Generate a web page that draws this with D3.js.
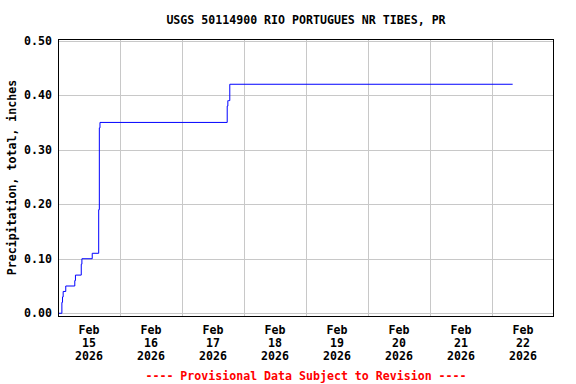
<!DOCTYPE html>
<html>
<head>
<meta charset="utf-8">
<script src="https://cdn.jsdelivr.net/npm/d3@7"></script>
<style>
  body { margin: 0; background: #fff; }
  text { font-family: 'DejaVu Sans Mono', monospace; font-weight: bold; font-size: 11.6px; }
</style>
</head>
<body>
<div id="svg-container"></div>
<script>
// cumulative precipitation, step series (value holds from time on)
const times = [
  '2026-02-15T00:00', '2026-02-15T01:30', '2026-02-15T01:45', '2026-02-15T02:00',
  '2026-02-15T03:00', '2026-02-15T06:30', '2026-02-15T06:45', '2026-02-15T09:00',
  '2026-02-15T09:15', '2026-02-15T13:15', '2026-02-15T15:45', '2026-02-15T16:00',
  '2026-02-15T16:15', '2026-02-17T17:30', '2026-02-17T17:45', '2026-02-17T18:00',
  '2026-02-17T18:30', '2026-02-22T08:00',
]
const values = [
  0.00, 0.02, 0.03, 0.04,
  0.05, 0.06, 0.07, 0.09,
  0.10, 0.11, 0.19, 0.34,
  0.35, 0.38, 0.39, 0.39,
  0.42, 0.42,
]
const yTicks = [0, 0.1, 0.2, 0.3, 0.4, 0.5]
const dayLabels = ['15', '16', '17', '18', '19', '20', '21', '22']

;(function () {
  const svgWidth = 576
  const svgHeight = 384
  const left = 58, right = 554, top = 39, bottom = 316

  const parse = d3.timeParse('%Y-%m-%dT%H:%M')
  const data = times.map((t, i) => ({ date: parse(t), value: values[i] }))

  const x = d3.scaleTime()
    .domain([parse('2026-02-15T00:00'), parse('2026-02-23T00:00')])
    .range([left, right])
  const y = d3.scaleLinear().domain([-0.005, 0.503]).range([bottom, top])

  const svg = d3.select('#svg-container').append('svg')
    .attr('width', svgWidth).attr('height', svgHeight)

  // grid
  const days = d3.timeDay.range(parse('2026-02-16T00:00'), parse('2026-02-23T00:00'))
  svg.append('g').selectAll('line').data(days).join('line')
    .attr('x1', d => Math.round(x(d)) + 0.5).attr('x2', d => Math.round(x(d)) + 0.5)
    .attr('y1', top).attr('y2', bottom)
    .attr('stroke', '#c8c8c8')
  svg.append('g').selectAll('line').data(yTicks).join('line')
    .attr('x1', left).attr('x2', right)
    .attr('y1', d => Math.round(y(d)) + 0.5).attr('y2', d => Math.round(y(d)) + 0.5)
    .attr('stroke', '#c8c8c8')

  // series
  const line = d3.line()
    .x(d => x(d.date))
    .y(d => y(d.value))
    .curve(d3.curveStepAfter)
  svg.append('path').datum(data)
    .attr('d', line)
    .attr('fill', 'none')
    .attr('stroke', '#0000ff')
    .attr('stroke-width', 1)

  // frame
  svg.append('rect')
    .attr('x', left + 0.5).attr('y', top + 0.5)
    .attr('width', right - left - 1).attr('height', bottom - top)
    .attr('fill', 'none').attr('stroke', '#000')

  // y tick labels
  svg.append('g').selectAll('text').data(yTicks).join('text')
    .attr('x', 52).attr('y', d => y(d))
    .attr('dy', '0.35em')
    .attr('text-anchor', 'end')
    .text(d => d3.format('.2f')(d))

  // x tick labels at noon
  const noons = dayLabels.map(d => parse(`2026-02-${d}T12:00`))
  const xl = svg.append('g').selectAll('text').data(noons).join('text')
    .attr('text-anchor', 'middle')
    .attr('x', d => x(d))
  xl.append('tspan').attr('x', d => x(d)).attr('y', 334).text('Feb')
  xl.append('tspan').attr('x', d => x(d)).attr('y', 347).text((d, i) => dayLabels[i])
  xl.append('tspan').attr('x', d => x(d)).attr('y', 360).text('2026')

  svg.append('text')
    .attr('x', (left + right) / 2).attr('y', 24)
    .attr('text-anchor', 'middle')
    .text('USGS 50114900 RIO PORTUGUES NR TIBES, PR')

  svg.append('text')
    .attr('transform', `translate(16, ${(top + bottom) / 2}) rotate(-90)`)
    .attr('text-anchor', 'middle')
    .text('Precipitation, total, inches')

  svg.append('text')
    .attr('x', (left + right) / 2).attr('y', 380)
    .attr('text-anchor', 'middle')
    .attr('fill', '#ff0000')
    .text('---- Provisional Data Subject to Revision ----')
})()
</script>
</body>
</html>
